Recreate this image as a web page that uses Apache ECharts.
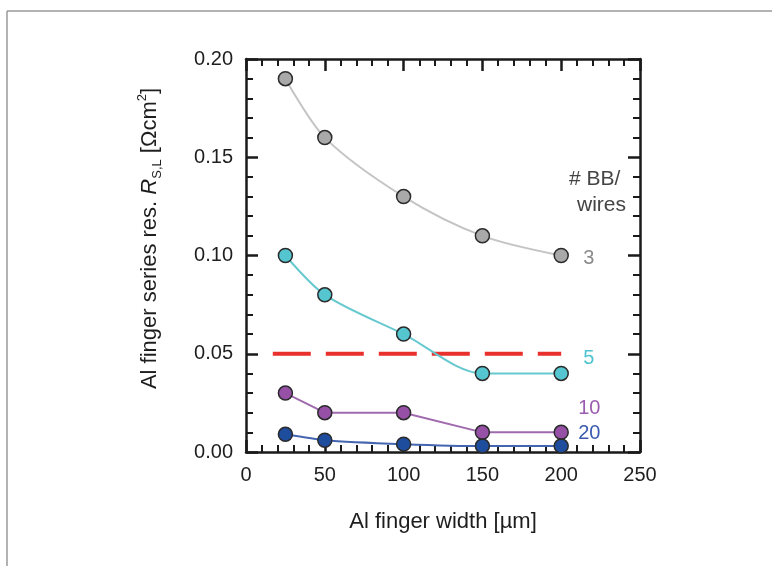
<!DOCTYPE html>
<html>
<head>
<meta charset="utf-8">
<script src="https://cdn.jsdelivr.net/npm/echarts@6/dist/echarts.min.js"></script>
<style>html,body{margin:0;padding:0;background:#fff;}#c{width:772px;height:566px;}</style>
</head>
<body>
<div id="c"></div>
<script>
const widths = [25, 50, 100, 150, 200];
const bb3 = [0.19, 0.16, 0.13, 0.11, 0.10];
const bb5 = [0.10, 0.08, 0.06, 0.04, 0.04];
const bb10 = [0.03, 0.02, 0.02, 0.01, 0.01];
const bb20 = [0.009, 0.006, 0.004, 0.003, 0.003];
const seriesNames = ['3', '5', '10', '20'];
const limitX = [17, 200];
const limitY = 0.05;
const xTicks = [0, 50, 100, 150, 200, 250];
const yTicks = [0.00, 0.05, 0.10, 0.15, 0.20];

const FONT = "'Liberation Sans', Arial, sans-serif";
const chart = echarts.init(document.getElementById('c'));

function pts(arr) { return widths.map((w, i) => [w, arr[i]]); }

function mk(name, data, fill, line, labColor, offset, smooth) {
  return {
    name: name, type: 'line', data: pts(data), xAxisIndex: 0, yAxisIndex: 0,
    smooth: smooth, symbol: 'circle', symbolSize: 14,
    itemStyle: { color: fill, borderColor: '#2a2a2a', borderWidth: 1.5 },
    lineStyle: { color: line, width: 2 },
    endLabel: { show: true, formatter: name, color: labColor, fontSize: 20,
      fontFamily: FONT, offset: offset, distance: 10 },
    z: 3
  };
}

const axisCommon = {
  axisLine: { show: true, onZero: false, lineStyle: { color: '#1a1a1a', width: 2.5 } },
  axisTick: { show: true, inside: true, length: 12, lineStyle: { color: '#1a1a1a', width: 2.5 } },
  minorTick: { show: true, splitNumber: 5, length: 7, lineStyle: { color: '#1a1a1a', width: 2 } },
  splitLine: { show: false }
};

chart.setOption({
  backgroundColor: '#fff',
  animation: false,
  grid: { left: 246, top: 59, right: 132, bottom: 114, containLabel: false },
  xAxis: [
    Object.assign({
      type: 'value', min: xTicks[0], max: xTicks[xTicks.length - 1], interval: 50, position: 'bottom',
      name: 'Al finger width [µm]', nameLocation: 'middle', nameGap: 59,
      nameTextStyle: { fontSize: 22, color: '#1e1e1e', fontFamily: FONT },
      axisLabel: { fontSize: 20, color: '#1e1e1e', fontFamily: FONT, margin: 13 }
    }, axisCommon),
    Object.assign({
      type: 'value', min: xTicks[0], max: xTicks[xTicks.length - 1], interval: 50, position: 'top',
      axisLabel: { show: false }
    }, axisCommon)
  ],
  yAxis: [
    Object.assign({
      type: 'value', min: yTicks[0], max: yTicks[yTicks.length - 1], interval: 0.05, position: 'left',
      name: '{a|Al finger series res. }{i|R}{s|S,L}{a| [Ωcm}{p|2}{a|]}',
      nameLocation: 'middle', nameGap: 82, nameRotate: 90,
      nameTextStyle: {
        color: '#1e1e1e', fontFamily: FONT, padding: [0, 0, 0, 34],
        rich: {
          a: { fontSize: 22, color: '#1e1e1e', fontFamily: FONT, lineHeight: 28 },
          i: { fontSize: 22, color: '#1e1e1e', fontFamily: FONT, fontStyle: 'italic', lineHeight: 28 },
          s: { fontSize: 13, color: '#1e1e1e', fontFamily: FONT, verticalAlign: 'bottom', lineHeight: 28 },
          p: { fontSize: 13, color: '#1e1e1e', fontFamily: FONT, verticalAlign: 'top', lineHeight: 28 }
        }
      },
      axisLabel: { fontSize: 20, color: '#1e1e1e', fontFamily: FONT, margin: 13,
        formatter: v => v.toFixed(2) }
    }, axisCommon),
    Object.assign({
      type: 'value', min: yTicks[0], max: yTicks[yTicks.length - 1], interval: 0.05, position: 'right',
      axisLabel: { show: false }
    }, axisCommon)
  ],
  series: [
    mk(seriesNames[0], bb3, '#a9a9a9', '#c4c4c4', '#8a8a8a', [12, 3], 0.3),
    mk(seriesNames[1], bb5, '#55c6cf', '#67c9d0', '#4fc3cf', [12, -15], 0.3),
    mk(seriesNames[2], bb10, '#9650a6', '#a06aae', '#9b5bb0', [7, -24], false),
    mk(seriesNames[3], bb20, '#1f4d9e', '#4466b0', '#3a5bb0', [7, -13], 0.2),
    {
      name: 'limit', type: 'line', data: [[limitX[0], limitY], [limitX[1], limitY]],
      symbol: 'none', lineStyle: { color: '#e8302c', width: 4, type: [38, 15] }, z: 2
    }
  ],
  graphic: [
    { type: 'line', shape: { x1: 7, y1: 11, x2: 772, y2: 11 }, style: { stroke: '#9a9a9a', lineWidth: 1.5 } },
    { type: 'line', shape: { x1: 7, y1: 11, x2: 7, y2: 566 }, style: { stroke: '#9a9a9a', lineWidth: 1.5 } },
    { type: 'text', left: 569, top: 169,
      style: { text: '# BB/', fontSize: 21, fill: '#444', fontFamily: FONT } },
    { type: 'text', left: 577, top: 195,
      style: { text: 'wires', fontSize: 21, fill: '#444', fontFamily: FONT } }
  ]
});
</script>
</body>
</html>
